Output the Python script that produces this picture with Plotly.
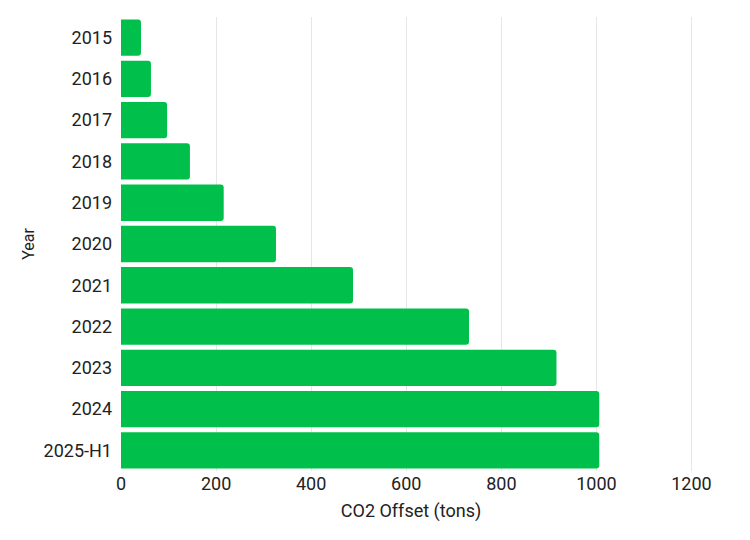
import plotly.graph_objects as go

years = ["2015", "2016", "2017", "2018", "2019", "2020", "2021", "2022", "2023", "2024", "2025-H1"]
offset_tons = [42, 63, 97, 145, 216, 326, 488, 732, 916, 1006, 1006]

fig = go.Figure(go.Bar(
    x=offset_tons, y=years, orientation="h",
    marker=dict(color="#00C04B", line=dict(width=0)),
))
fig.update_layout(
    width=750, height=540,
    margin=dict(l=113, r=57, t=9, b=77, autoexpand=False),
    paper_bgcolor="white", plot_bgcolor="white",
    font=dict(family="Roboto", size=16, color="#222"),
    bargap=0.12,
    barcornerradius=3,
    showlegend=False,
)
fig.update_xaxes(range=[0, 1220], tickvals=[0, 200, 400, 600, 800, 1000, 1200],
                 showgrid=True, gridcolor="#e6e6e6", zeroline=False, automargin=False,
                 tickfont=dict(size=18),
                 title=dict(text="CO2 Offset (tons)", standoff=11, font=dict(size=18)))
fig.update_yaxes(autorange="reversed", title=dict(text="Year", standoff=4, font=dict(size=16)), showgrid=False,
                 ticks="", ticklabelstandoff=8, automargin=False, tickfont=dict(size=18))
fig.write_html("out.html")
